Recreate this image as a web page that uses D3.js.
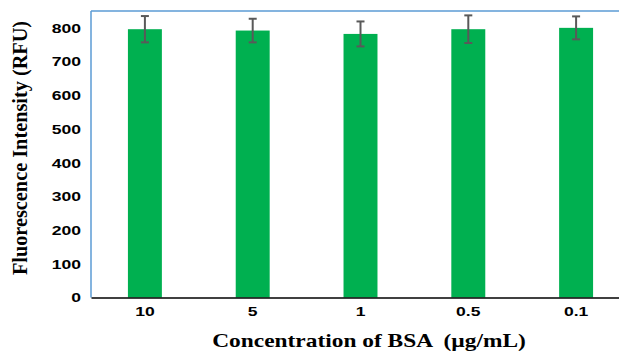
<!DOCTYPE html>
<html>
<head>
<meta charset="utf-8">
<script src="https://cdn.jsdelivr.net/npm/d3@7"></script>
<style>
  html, body { margin: 0; padding: 0; background: #fff; }
  svg { display: block; }
</style>
</head>
<body>
<svg id="chart" width="619" height="354"></svg>
<script>
const categories = ["10", "5", "1", "0.5", "0.1"];
const values = [796, 792, 782, 796, 800];
const errors = [39, 35, 37, 41, 34];
const yTicks = [0, 100, 200, 300, 400, 500, 600, 700, 800];
const xTitle = "Concentration of BSA  (\u00b5g/mL)";
const yTitle = "Fluorescence Intensity (RFU)";

const svg = d3.select("#chart");
const mLeft = 91, mTop = 11, mBottom = 297.5, rightEnd = 630;
const sx = 1.3; // horizontal stretch of text seen in the reference

const x = d3.scaleBand().domain(categories).range([mLeft, rightEnd])
  .paddingInner(0.685).paddingOuter(0.3425);
const y = d3.scaleLinear().domain([0, 850]).range([mBottom, mTop]);

// bars
svg.append("g").selectAll("rect").data(categories).join("rect")
  .attr("x", d => x(d))
  .attr("y", (d, i) => y(values[i]))
  .attr("width", x.bandwidth())
  .attr("height", (d, i) => y(0) - y(values[i]))
  .attr("fill", "#00B050");

// error bars
const eg = svg.append("g").attr("stroke", "#595959").attr("stroke-width", 2);
categories.forEach((c, i) => {
  const cx = x(c) + x.bandwidth() / 2;
  const y1 = y(values[i] + errors[i]), y2 = y(values[i] - errors[i]);
  eg.append("line").attr("x1", cx).attr("x2", cx).attr("y1", y1).attr("y2", y2);
  eg.append("line").attr("x1", cx - 4).attr("x2", cx + 4).attr("y1", y1).attr("y2", y1);
  eg.append("line").attr("x1", cx - 4).attr("x2", cx + 4).attr("y1", y2).attr("y2", y2);
});

// plot border (top and left blue)
svg.append("line").attr("x1", mLeft).attr("x2", 619).attr("y1", mTop).attr("y2", mTop)
  .attr("stroke", "#5B9BD5").attr("stroke-width", 1.5);
svg.append("line").attr("x1", mLeft).attr("x2", mLeft).attr("y1", mTop).attr("y2", mBottom)
  .attr("stroke", "#5B9BD5").attr("stroke-width", 1.5);

// y axis labels
const yAxis = d3.axisLeft(y).tickValues(yTicks).tickSize(0).tickPadding(10);
const ya = svg.append("g").attr("transform", `translate(${mLeft},0)`).call(yAxis);
ya.select(".domain").remove();
ya.selectAll("text").attr("font-family", "'Liberation Sans', Arial, sans-serif")
  .attr("font-weight", "bold").attr("font-size", 13.5).attr("fill", "#000")
  .attr("x", -10 / sx).attr("transform", `scale(${sx},1)`);

// x axis
const xAxis = d3.axisBottom(x).tickSize(0).tickPadding(9);
const xa = svg.append("g").attr("transform", `translate(0,${mBottom})`).call(xAxis);
xa.select(".domain").attr("stroke", "#000").attr("stroke-width", 1.5);
xa.selectAll("text").attr("font-family", "'Liberation Sans', Arial, sans-serif")
  .attr("font-weight", "bold").attr("font-size", 13.5).attr("fill", "#000")
  .attr("transform", `scale(${sx},1)`);

// titles
svg.append("text").attr("transform", `translate(369,347) scale(${sx},1)`)
  .attr("text-anchor", "middle")
  .style("white-space", "pre")
  .attr("font-family", "'Liberation Serif', 'Times New Roman', serif")
  .attr("font-weight", "bold").attr("font-size", 18).text(xTitle);

svg.append("text").attr("transform", "translate(27,148) rotate(-90)")
  .attr("text-anchor", "middle")
  .attr("font-family", "'Liberation Serif', 'Times New Roman', serif")
  .attr("font-weight", "bold").attr("font-size", 20.3).text(yTitle);
</script>
</body>
</html>
